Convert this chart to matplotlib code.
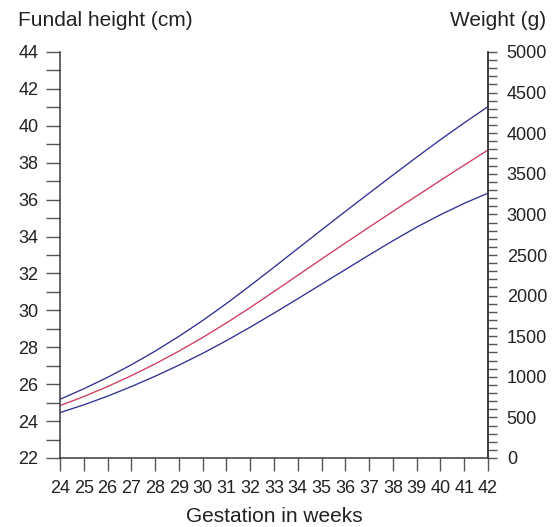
import matplotlib
matplotlib.use("Agg")
import matplotlib.pyplot as plt
from matplotlib.ticker import MultipleLocator

plt.rcParams['font.family'] = ['Liberation Sans', 'DejaVu Sans']

weeks = list(range(24, 43))
upper = [25.18, 25.75, 26.37, 27.05, 27.79, 28.59, 29.45, 30.37, 31.34, 32.34,
         33.35, 34.36, 35.36, 36.35, 37.33, 38.30, 39.25, 40.16, 41.04]
median = [24.84, 25.33, 25.87, 26.46, 27.10, 27.79, 28.53, 29.32, 30.15, 31.02,
          31.90, 32.78, 33.65, 34.51, 35.36, 36.20, 37.04, 37.87, 38.69]
lower = [24.46, 24.88, 25.35, 25.87, 26.43, 27.03, 27.67, 28.36, 29.09, 29.85,
         30.63, 31.42, 32.21, 33.00, 33.77, 34.51, 35.18, 35.80, 36.35]

left_ticks = list(range(22, 45, 2))
right_ticks = list(range(0, 5001, 500))

blue = '#2e3192'
red = '#d03a5c'
spine_c = '#3a3a3a'
tick_c = '#555555'
text_c = '#222222'

fig = plt.figure(figsize=(5.56, 5.27), dpi=100)
ax = fig.add_axes([60/556, 69/527, 428/556, 406/527])

ax.plot(weeks, upper, color=blue, lw=0.95)
ax.plot(weeks, median, color=red, lw=0.95)
ax.plot(weeks, lower, color=blue, lw=0.95)

ax.set_xlim(24, 42)
ax.set_ylim(22, 44)
ax.set_xticks(weeks)
ax.set_yticks(left_ticks)
ax.yaxis.set_minor_locator(MultipleLocator(1))

ax.spines['top'].set_visible(False)
for s in ['left', 'bottom', 'right']:
    ax.spines[s].set_color(spine_c)
    ax.spines[s].set_linewidth(1.1)

ax.tick_params(axis='y', which='both', length=10, width=1.0, color=tick_c,
               labelsize=13, pad=5.5, labelcolor=text_c)
ax.tick_params(axis='x', which='major', length=9.5, width=1.0, color=tick_c,
               labelsize=13, pad=6, labelcolor=text_c)

ax2 = ax.twinx()
ax2.set_ylim(0, 5000)
ax2.set_yticks(right_ticks)
ax2.yaxis.set_minor_locator(MultipleLocator(100))
for s in ['top', 'left', 'bottom']:
    ax2.spines[s].set_visible(False)
ax2.spines['right'].set_color(spine_c)
ax2.spines['right'].set_linewidth(1.1)
ax2.tick_params(axis='y', which='both', length=6.5, width=1.0, color=tick_c,
                labelsize=13, pad=7, labelcolor=text_c)

fig.text(18/556, 1 - 20/527, 'Fundal height (cm)', fontsize=15, color=text_c,
         ha='left', va='center')
fig.text(546/556, 1 - 20/527, 'Weight (g)', fontsize=15, color=text_c,
         ha='right', va='center')
fig.text(274/556, 1 - 517/527, 'Gestation in weeks', fontsize=15, color=text_c,
         ha='center', va='center')

fig.savefig('out.png', dpi=100)
